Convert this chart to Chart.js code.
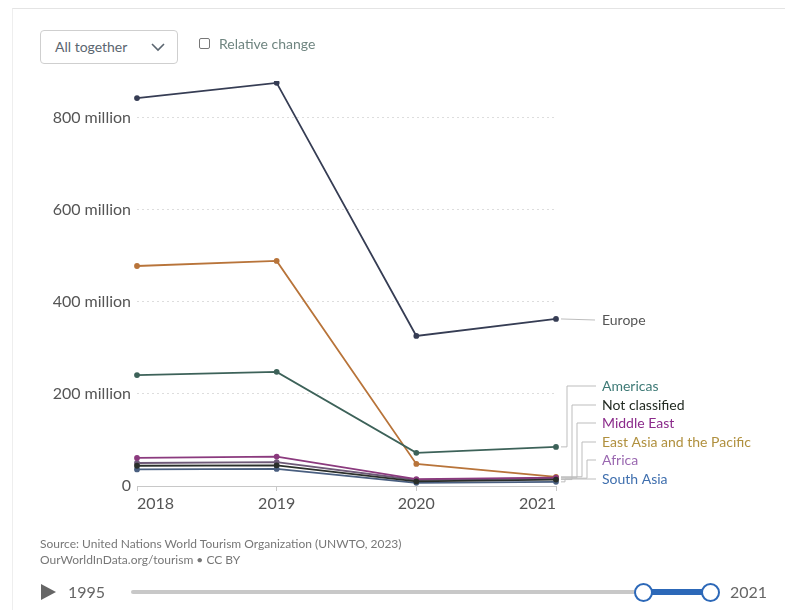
<!DOCTYPE html>
<html>
<head>
<meta charset="utf-8">
<script src="https://cdn.jsdelivr.net/npm/chart.js@4.4.0/dist/chart.umd.min.js"></script>
<style>
  html,body{margin:0;padding:0;background:#fff;}
  body{width:785px;height:610px;position:relative;overflow:hidden;font-family:Lato,"Noto Sans",sans-serif;}
  #frame{position:absolute;left:12px;top:8px;width:800px;height:620px;border-top:1px solid #e4e4e4;border-left:1px solid #eee;}
  canvas{position:absolute;left:0;top:0;}
  .btn{position:absolute;left:40px;top:30px;width:138px;height:34px;border:1px solid #cfcfcf;border-radius:4px;box-sizing:border-box;font-size:14px;color:#5b6670;line-height:32px;padding-left:14px;background:#fff;}
  .btn svg{position:absolute;left:110px;top:12px;}
  .chk{position:absolute;left:199px;top:38px;width:9px;height:9px;border:1.3px solid #777;border-radius:2px;}
  .chklbl{position:absolute;left:219px;top:35px;font-size:14px;color:#6f8580;}
  .src{position:absolute;left:40px;top:536px;font-size:12px;color:#777;line-height:16px;}
  .play{position:absolute;left:41px;top:584px;width:0;height:0;border-top:8px solid transparent;border-bottom:8px solid transparent;border-left:15px solid #666;}
  .yl{position:absolute;top:582px;font-size:16px;color:#666;}
  .track{position:absolute;left:131px;top:590px;width:580px;height:4px;background:#c8c8c8;border-radius:2px;}
  .range{position:absolute;left:643px;top:589px;width:67px;height:6px;background:#2c68b8;}
  .knob{position:absolute;top:583px;width:15px;height:15px;border:2px solid #2c68b8;border-radius:50%;background:#fff;}
</style>
</head>
<body>
<div id="frame"></div>
<canvas id="c" width="785" height="610"></canvas>
<div class="btn">All together<svg width="14" height="9" viewBox="0 0 14 9"><path d="M1 1 L7 7 L13 1" fill="none" stroke="#5b6670" stroke-width="1.6"/></svg></div>
<div class="chk"></div>
<div class="chklbl">Relative change</div>
<div class="src">Source: United Nations World Tourism Organization (UNWTO, 2023)<br>OurWorldInData.org/tourism • CC BY</div>
<div class="play"></div>
<div class="yl" style="left:68px;">1995</div>
<div class="track"></div>
<div class="range"></div>
<div class="knob" style="left:634px;"></div>
<div class="knob" style="left:701px;"></div>
<div class="yl" style="left:730px;">2021</div>
<script>
const years = ['2018', '2019', '2020', '2021'];
const europe = [843, 876, 326, 363];
const eastAsiaPacific = [478, 489, 48, 20];
const americas = [241, 248, 72, 85];
const middleEast = [61, 64, 15, 18];
const africa = [50, 52, 13, 17];
const notClassified = [44, 45, 10, 14];
const southAsia = [36, 37, 7, 9];
const yTickValues = [0, 200, 400, 600, 800];

const series = [
  {name: 'Europe', data: europe, line: '#363d54', text: '#555555', labelY: 320, elbow: null},
  {name: 'Americas', data: americas, line: '#3d6259', text: '#3e7a76', labelY: 386, elbow: 567},
  {name: 'Not classified', data: notClassified, line: '#2a2f2a', text: '#222a22', labelY: 405, elbow: 572},
  {name: 'Middle East', data: middleEast, line: '#8b3a7e', text: '#8b2b8b', labelY: 423, elbow: 577},
  {name: 'East Asia and the Pacific', data: eastAsiaPacific, line: '#b8743a', text: '#b0903e', labelY: 442, elbow: 582},
  {name: 'Africa', data: africa, line: '#6e5a78', text: '#9a68b0', labelY: 460, elbow: 587},
  {name: 'South Asia', data: southAsia, line: '#4a5f80', text: '#3f6fae', labelY: 479, elbow: 565}
];

const labelPlugin = {
  id: 'endLabels',
  afterDatasetsDraw(chart) {
    const ctx = chart.ctx;
    const xs = chart.scales.x, ys = chart.scales.y;
    const lastX = xs.getPixelForValue(years.length - 1);
    ctx.save();
    ctx.font = '14px Lato';
    ctx.textBaseline = 'middle';
    ctx.lineWidth = 1;
    ctx.strokeStyle = '#bdbdbd';
    series.forEach(s => {
      const py = ys.getPixelForValue(s.data[s.data.length - 1]);
      const lx = 600;
      ctx.beginPath();
      if (s.elbow === null) {
        ctx.moveTo(lastX + 5, py);
        ctx.lineTo(lx - 5, s.labelY);
      } else {
        ctx.moveTo(lastX + 5, py);
        ctx.lineTo(s.elbow, py);
        ctx.lineTo(s.elbow, s.labelY);
        ctx.lineTo(lx - 4, s.labelY);
      }
      ctx.stroke();
      ctx.fillStyle = s.text;
      ctx.fillText(s.name, lx + 2, s.labelY);
    });
    ctx.restore();
  }
};

new Chart(document.getElementById('c'), {
  type: 'line',
  data: {
    labels: years,
    datasets: series.map(s => ({
      label: s.name,
      data: s.data,
      borderColor: s.line,
      backgroundColor: s.line,
      borderWidth: 1.8,
      pointRadius: 2,
      pointHoverRadius: 2,
      tension: 0
    }))
  },
  options: {
    responsive: false,
    animation: false,
    events: [],
    layout: {padding: {left: 20, right: 229, top: 81, bottom: 94}},
    plugins: {legend: {display: false}, tooltip: {enabled: false}},
    scales: {
      x: {
        offset: false,
        grid: {display: true, drawOnChartArea: false, drawTicks: true, tickLength: 5, color: '#c8c8c8'},
        border: {display: true, color: '#c8c8c8'},
        ticks: {color: '#555', font: {family: 'Lato', size: 16}, padding: 3, maxRotation: 0, align: 'inner'},
        afterFit(scale) { scale.height = 30; }
      },
      y: {
        min: 0,
        max: 880,
        afterBuildTicks(scale) { scale.ticks = yTickValues.map(v => ({value: v})); },
        grid: {display: true, drawTicks: false, color: '#dddddd', lineWidth: 1},
        border: {display: false, dash: [2, 3]},
        ticks: {
          color: '#555',
          font: {family: 'Lato', size: 16},
          padding: 6,
          callback: v => v === 0 ? '0' : (v + ' million')
        },
        afterFit(scale) { scale.width = 117; }
      }
    }
  },
  plugins: [labelPlugin]
});
</script>
</body>
</html>
